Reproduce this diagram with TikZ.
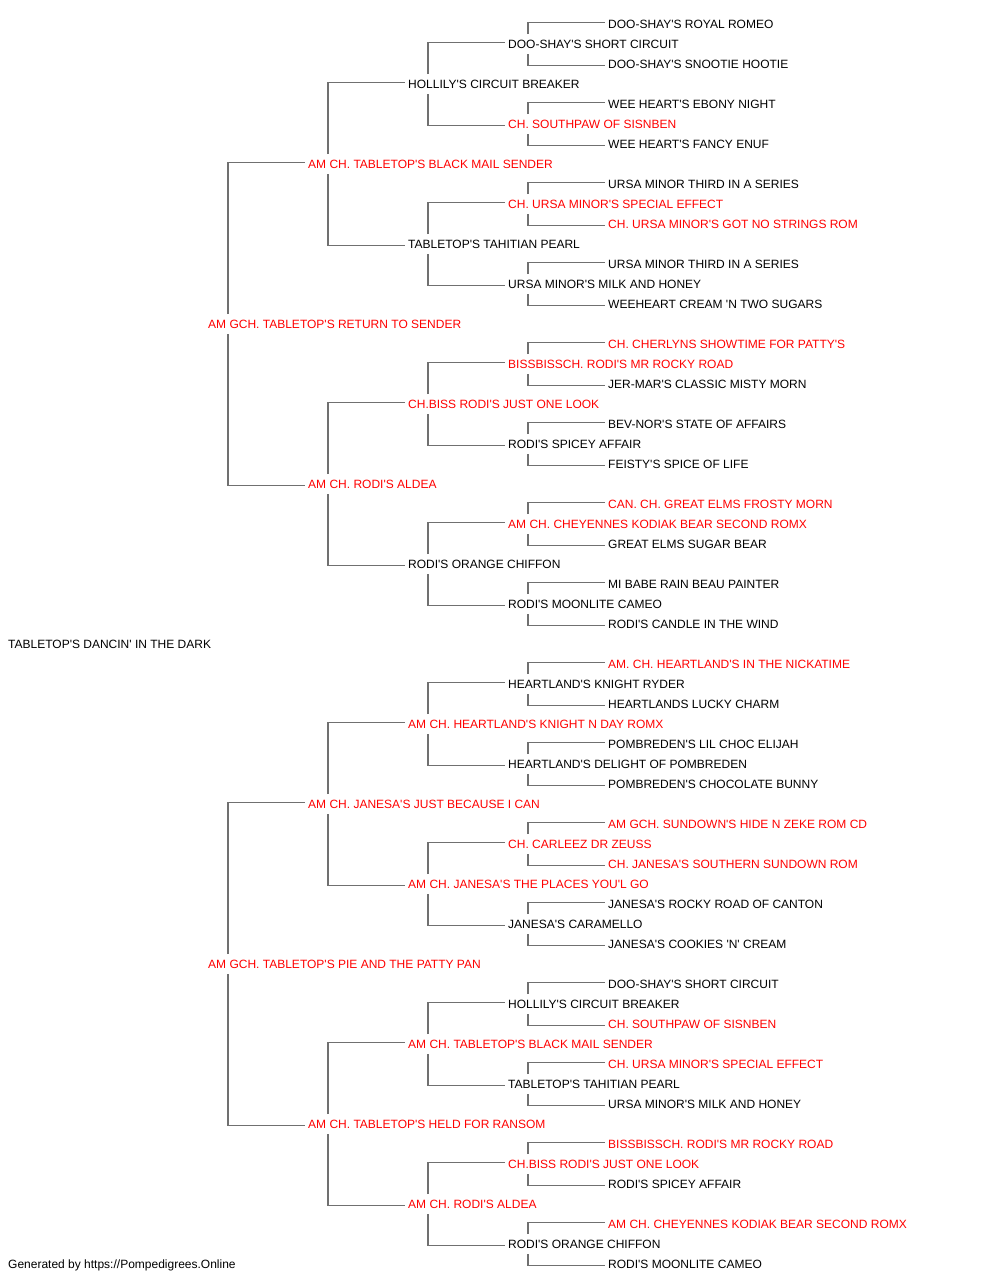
\documentclass[tikz,border=0pt]{standalone}
\usepackage{fontspec}
\setmainfont{Liberation Sans}[Ligatures=TeXOff]
\definecolor{pedred}{RGB}{255,0,0}
\definecolor{linegray}{RGB}{112,112,112}
\begin{document}
\begin{tikzpicture}[x=1pt,y=-1pt,
  nm/.style={anchor=base west, inner xsep=0pt, inner ysep=0pt, yshift=-0.8pt, text height=14.3pt, text depth=5.2pt, font=\fontsize{12}{14}\selectfont, text=black},
  rd/.style={nm, text=pedred},
  conn/.style={draw=linegray, line width=1.2pt}]
\useasboundingbox (0,0) rectangle (1000,1280);
% root
\node[nm] (r31) at (8,647.8) {TABLETOP'S DANCIN' IN THE DARK};
% gen1
\node[rd] (r15) at (208,327.8) {AM GCH. TABLETOP'S RETURN TO SENDER};
\node[rd] (r47) at (208,967.8) {AM GCH. TABLETOP'S PIE AND THE PATTY PAN};
% gen2
\node[rd] (r7) at (308,167.8) {AM CH. TABLETOP'S BLACK MAIL SENDER};
\node[rd] (r23) at (308,487.8) {AM CH. RODI'S ALDEA};
\node[rd] (r39) at (308,807.8) {AM CH. JANESA'S JUST BECAUSE I CAN};
\node[rd] (r55) at (308,1127.8) {AM CH. TABLETOP'S HELD FOR RANSOM};
% gen3
\node[nm] (r3) at (408,87.8) {HOLLILY'S CIRCUIT BREAKER};
\node[nm] (r11) at (408,247.8) {TABLETOP'S TAHITIAN PEARL};
\node[rd] (r19) at (408,407.8) {CH.BISS RODI'S JUST ONE LOOK};
\node[nm] (r27) at (408,567.8) {RODI'S ORANGE CHIFFON};
\node[rd] (r35) at (408,727.8) {AM CH. HEARTLAND'S KNIGHT N DAY ROMX};
\node[rd] (r43) at (408,887.8) {AM CH. JANESA'S THE PLACES YOU'L GO};
\node[rd] (r51) at (408,1047.8) {AM CH. TABLETOP'S BLACK MAIL SENDER};
\node[rd] (r59) at (408,1207.8) {AM CH. RODI'S ALDEA};
% gen4
\node[nm] (r1) at (508,47.8) {DOO-SHAY'S SHORT CIRCUIT};
\node[rd] (r5) at (508,127.8) {CH. SOUTHPAW OF SISNBEN};
\node[rd] (r9) at (508,207.8) {CH. URSA MINOR'S SPECIAL EFFECT};
\node[nm] (r13) at (508,287.8) {URSA MINOR'S MILK AND HONEY};
\node[rd] (r17) at (508,367.8) {BISSBISSCH. RODI'S MR ROCKY ROAD};
\node[nm] (r21) at (508,447.8) {RODI'S SPICEY AFFAIR};
\node[rd] (r25) at (508,527.8) {AM CH. CHEYENNES KODIAK BEAR SECOND ROMX};
\node[nm] (r29) at (508,607.8) {RODI'S MOONLITE CAMEO};
\node[nm] (r33) at (508,687.8) {HEARTLAND'S KNIGHT RYDER};
\node[nm] (r37) at (508,767.8) {HEARTLAND'S DELIGHT OF POMBREDEN};
\node[rd] (r41) at (508,847.8) {CH. CARLEEZ DR ZEUSS};
\node[nm] (r45) at (508,927.8) {JANESA'S CARAMELLO};
\node[nm] (r49) at (508,1007.8) {HOLLILY'S CIRCUIT BREAKER};
\node[nm] (r53) at (508,1087.8) {TABLETOP'S TAHITIAN PEARL};
\node[rd] (r57) at (508,1167.8) {CH.BISS RODI'S JUST ONE LOOK};
\node[nm] (r61) at (508,1247.8) {RODI'S ORANGE CHIFFON};
% gen5
\node[nm] (r0) at (608,27.8) {DOO-SHAY'S ROYAL ROMEO};
\node[nm] (r2) at (608,67.8) {DOO-SHAY'S SNOOTIE HOOTIE};
\node[nm] (r4) at (608,107.8) {WEE HEART'S EBONY NIGHT};
\node[nm] (r6) at (608,147.8) {WEE HEART'S FANCY ENUF};
\node[nm] (r8) at (608,187.8) {URSA MINOR THIRD IN A SERIES};
\node[rd] (r10) at (608,227.8) {CH. URSA MINOR'S GOT NO STRINGS ROM};
\node[nm] (r12) at (608,267.8) {URSA MINOR THIRD IN A SERIES};
\node[nm] (r14) at (608,307.8) {WEEHEART CREAM 'N TWO SUGARS};
\node[rd] (r16) at (608,347.8) {CH. CHERLYNS SHOWTIME FOR PATTY'S};
\node[nm] (r18) at (608,387.8) {JER-MAR'S CLASSIC MISTY MORN};
\node[nm] (r20) at (608,427.8) {BEV-NOR'S STATE OF AFFAIRS};
\node[nm] (r22) at (608,467.8) {FEISTY'S SPICE OF LIFE};
\node[rd] (r24) at (608,507.8) {CAN. CH. GREAT ELMS FROSTY MORN};
\node[nm] (r26) at (608,547.8) {GREAT ELMS SUGAR BEAR};
\node[nm] (r28) at (608,587.8) {MI BABE RAIN BEAU PAINTER};
\node[nm] (r30) at (608,627.8) {RODI'S CANDLE IN THE WIND};
\node[rd] (r32) at (608,667.8) {AM. CH. HEARTLAND'S IN THE NICKATIME};
\node[nm] (r34) at (608,707.8) {HEARTLANDS LUCKY CHARM};
\node[nm] (r36) at (608,747.8) {POMBREDEN'S LIL CHOC ELIJAH};
\node[nm] (r38) at (608,787.8) {POMBREDEN'S CHOCOLATE BUNNY};
\node[rd] (r40) at (608,827.8) {AM GCH. SUNDOWN'S HIDE N ZEKE ROM CD};
\node[rd] (r42) at (608,867.8) {CH. JANESA'S SOUTHERN SUNDOWN ROM};
\node[nm] (r44) at (608,907.8) {JANESA'S ROCKY ROAD OF CANTON};
\node[nm] (r46) at (608,947.8) {JANESA'S COOKIES 'N' CREAM};
\node[nm] (r48) at (608,987.8) {DOO-SHAY'S SHORT CIRCUIT};
\node[rd] (r50) at (608,1027.8) {CH. SOUTHPAW OF SISNBEN};
\node[rd] (r52) at (608,1067.8) {CH. URSA MINOR'S SPECIAL EFFECT};
\node[nm] (r54) at (608,1107.8) {URSA MINOR'S MILK AND HONEY};
\node[rd] (r56) at (608,1147.8) {BISSBISSCH. RODI'S MR ROCKY ROAD};
\node[nm] (r58) at (608,1187.8) {RODI'S SPICEY AFFAIR};
\node[rd] (r60) at (608,1227.8) {AM CH. CHEYENNES KODIAK BEAR SECOND ROMX};
\node[nm] (r62) at (608,1267.8) {RODI'S MOONLITE CAMEO};
% footer
\node[nm] (foot) at (8,1267.8) {Generated by https://Pompedigrees.Online};
% connectors
\foreach \p/\d in {15/8,47/8,7/4,23/4,39/4,55/4,3/2,11/2,19/2,27/2,35/2,43/2,51/2,59/2,
  1/1,5/1,9/1,13/1,17/1,21/1,25/1,29/1,33/1,37/1,41/1,45/1,49/1,53/1,57/1,61/1} {
  \pgfmathtruncatemacro\u{\p-\d}
  \pgfmathtruncatemacro\l{\p+\d}
  \draw[conn] ([xshift=20pt]r\p.north west) |- ([xshift=-3pt,yshift=1.5pt]r\u.west);
  \draw[conn] ([xshift=20pt]r\p.south west) |- ([xshift=-3pt,yshift=-1.5pt]r\l.west);
}
\end{tikzpicture}
\end{document}
